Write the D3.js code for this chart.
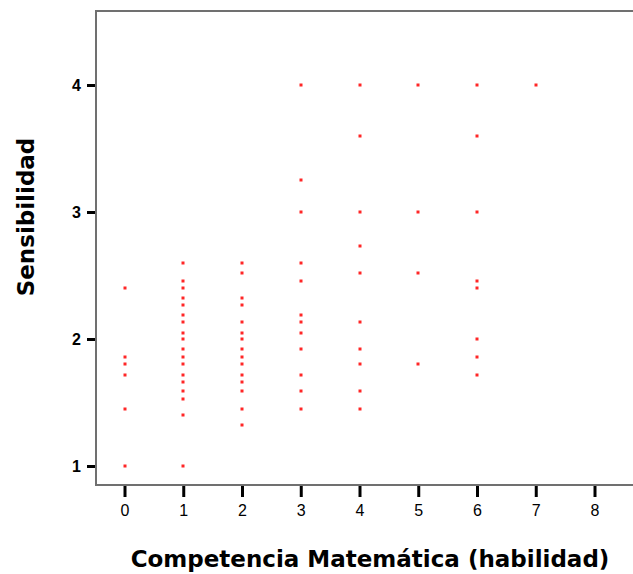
<!DOCTYPE html>
<html>
<head>
<meta charset="utf-8">
<script src="https://cdn.jsdelivr.net/npm/d3@7"></script>
<style>
  body { margin: 0; background: #fff; }
  svg { display: block; }
</style>
</head>
<body>
<div id="chart"></div>
<script>
// Competencia Matemática (x) -> Sensibilidad values (y), one list per x category
var competencia = [0, 1, 2, 3, 4, 5, 6, 7];
var sensibilidad = [
    [2.40, 1.86, 1.80, 1.72, 1.45, 1.00],
    [2.60, 2.46, 2.40, 2.32, 2.27, 2.19, 2.13, 2.05, 2.00, 1.92, 1.86, 1.80, 1.72, 1.66, 1.59, 1.53, 1.40, 1.00],
    [2.60, 2.52, 2.32, 2.27, 2.13, 2.05, 2.00, 1.92, 1.86, 1.80, 1.72, 1.66, 1.59, 1.45, 1.32],
    [4.00, 3.25, 3.00, 2.60, 2.46, 2.19, 2.13, 2.05, 1.92, 1.72, 1.59, 1.45],
    [4.00, 3.60, 3.00, 2.73, 2.52, 2.13, 1.92, 1.80, 1.59, 1.45],
    [4.00, 3.00, 2.52, 1.80],
    [4.00, 3.60, 3.00, 2.46, 2.40, 2.00, 1.86, 1.72],
    [4.00]
];
var xTicks = [0, 1, 2, 3, 4, 5, 6, 7, 8];
var yTicks = [1, 2, 3, 4];

var width = 633;
var height = 574;

// frame edges (note: "top" is taken by window.top)
var frameLeft = 96, frameTop = 11, frameBottom = 485;

var x = d3.scaleLinear().domain([0, 8]).range([124.5, 594.5]);
var y = d3.scaleLinear().domain([1, 4]).range([466, 85]);

var points = [];
competencia.forEach(function(c, i) {
    sensibilidad[i].forEach(function(v) { points.push({x: c, y: v}); });
});

var svg = d3.select("#chart")
    .append("svg")
    .attr("width", width)
    .attr("height", height);

// frame (no right border visible)
svg.append("path")
    .attr("d", "M" + (width + 5) + "," + frameTop + "H" + frameLeft + "V" + frameBottom + "H" + (width + 5))
    .attr("fill", "none")
    .attr("stroke", "#707070")
    .attr("stroke-width", 2);

// axes
var xAxis = svg.append("g")
    .attr("transform", "translate(0," + (frameBottom + 1) + ")")
    .call(d3.axisBottom(x).tickValues(xTicks).tickFormat(d3.format("d")).tickSize(11).tickPadding(8));

var yAxis = svg.append("g")
    .attr("transform", "translate(" + (frameLeft - 1) + ",0)")
    .call(d3.axisLeft(y).tickValues(yTicks).tickFormat(d3.format("d")).tickSize(8).tickPadding(6));

[xAxis, yAxis].forEach(function(a) {
    a.select(".domain").remove();
    a.selectAll(".tick line").attr("stroke", "#000").attr("stroke-width", 3);
    a.selectAll(".tick text")
        .attr("fill", "#000")
        .style("font-family", "'Liberation Sans', Arial, sans-serif");
});
xAxis.selectAll(".tick text").style("font-size", "16px");
yAxis.selectAll(".tick text").style("font-size", "16px").style("font-weight", "bold");

// points
svg.append("g")
    .selectAll("rect")
    .data(points)
    .enter()
    .append("rect")
    .attr("x", function(d) { return Math.round(x(d.x)) - 1.5; })
    .attr("y", function(d) { return Math.round(y(d.y)) - 1.5; })
    .attr("width", 3)
    .attr("height", 3)
    .attr("fill", "#ff2626");

// axis titles
svg.append("text")
    .attr("x", 370)
    .attr("y", 567)
    .attr("text-anchor", "middle")
    .style("font-family", "'DejaVu Sans', sans-serif")
    .style("font-weight", "bold")
    .style("font-size", "23px")
    .text("Competencia Matemática (habilidad)");

svg.append("text")
    .attr("transform", "translate(34,217) rotate(-90)")
    .attr("text-anchor", "middle")
    .style("font-family", "'DejaVu Sans', sans-serif")
    .style("font-weight", "bold")
    .style("font-size", "23px")
    .text("Sensibilidad");
</script>
</body>
</html>
